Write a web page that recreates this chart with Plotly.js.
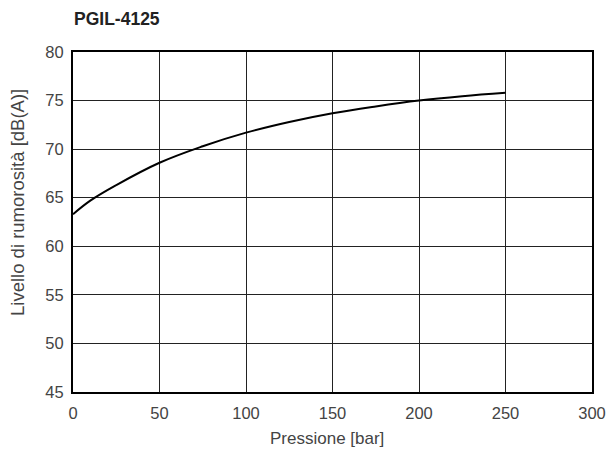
<!DOCTYPE html>
<html>
<head>
<meta charset="utf-8">
<script src="https://cdn.plot.ly/plotly-3.0.1.min.js"></script>
<style>html,body{margin:0;padding:0;background:#fff;}#chart{width:609px;height:452px;}</style>
</head>
<body>
<div id="chart"></div>
<script>
const pressure = [0, 10, 25, 50, 75, 100, 125, 150, 175, 200, 225, 250];
const noise = [63.3, 64.7, 66.3, 68.6, 70.3, 71.7, 72.8, 73.7, 74.4, 75.0, 75.45, 75.8];
const chartTitle = "PGIL-4125";
const xTitle = "Pressione [bar]";
const yTitle = "Livello di rumorosità [dB(A)]";
const xTicks = [0, 50, 100, 150, 200, 250, 300];
const yTicks = [45, 50, 55, 60, 65, 70, 75, 80];

const fam = "Liberation Sans, Arial, sans-serif";
const font = {family: fam, size: 16.5, color: "#444"};

Plotly.newPlot("chart", [{
  x: pressure, y: noise, type: "scatter", mode: "lines",
  line: {color: "#000", width: 2, shape: "spline", smoothing: 1.1},
  hoverinfo: "skip"
}], {
  width: 609, height: 452,
  margin: {l: 73, r: 17, t: 52, b: 60},
  paper_bgcolor: "#fff", plot_bgcolor: "#fff",
  showlegend: false,
  xaxis: {
    range: [0, 300], tickvals: xTicks, ticktext: xTicks.map(String),
    showgrid: true, gridcolor: "#222", gridwidth: 1,
    showline: true, linecolor: "#000", linewidth: 2, mirror: true,
    zeroline: false, ticks: "", tickfont: font, ticklabelstandoff: 5
  },
  yaxis: {
    range: [45, 80], tickvals: yTicks, ticktext: yTicks.map(String),
    showgrid: true, gridcolor: "#222", gridwidth: 1,
    showline: true, linecolor: "#000", linewidth: 2, mirror: true,
    zeroline: false, ticks: "", tickfont: font, ticklabelstandoff: 4
  },
  annotations: [
    {text: "<b>" + chartTitle + "</b>", xref: "paper", yref: "paper",
     x: (72 - 73) / 519, y: 1 + (52 - 19) / 340, xanchor: "left", yanchor: "middle",
     showarrow: false, font: {family: fam, size: 17.5, color: "#222"}},
    {text: xTitle, xref: "paper", yref: "paper",
     x: (327 - 73) / 519, y: -(438 - 392) / 340, xanchor: "center", yanchor: "middle",
     showarrow: false, font: {family: fam, size: 17, color: "#444"}},
    {text: yTitle, xref: "paper", yref: "paper", textangle: -90,
     x: (17 - 73) / 519, y: (392 - 203) / 340, xanchor: "center", yanchor: "middle",
     showarrow: false, font: {family: fam, size: 18.5, color: "#444"}}
  ]
}, {staticPlot: true});
</script>
</body>
</html>
